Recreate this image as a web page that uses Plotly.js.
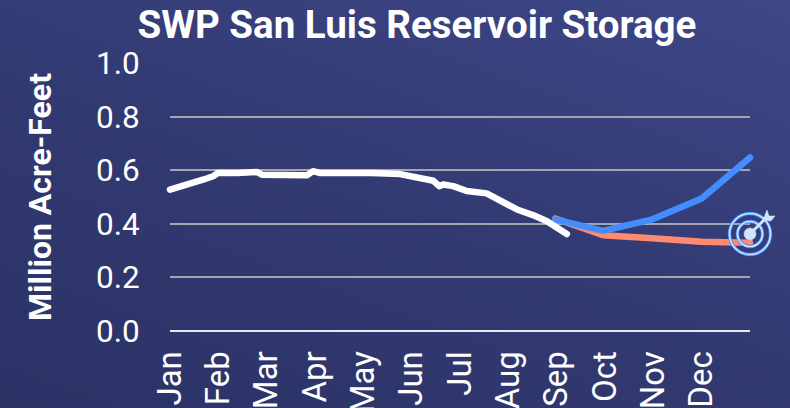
<!DOCTYPE html>
<html><head><meta charset="utf-8">
<script src="https://cdn.plot.ly/plotly-3.0.1.min.js"></script>
<style>
html,body{margin:0;padding:0;width:790px;height:408px;overflow:hidden;background:linear-gradient(20deg,#2a3266 0%,#323a72 50%,#3e4788 100%);}
#c{width:790px;height:408px;}
.scatterlayer path.js-line{stroke-linecap:round;stroke-linejoin:round;}
#c .cartesianlayer *{clip-path:none !important;}
</style></head><body><div id="c"></div>
<script>
const months=["Jan","Feb","Mar","Apr","May","Jun","Jul","Aug","Sep","Oct","Nov","Dec"];
const monthPos=[0,1,2,3,4,5,6,7,8,9,10,11];
const yTicks=[0,0.2,0.4,0.6,0.8,1.0];
const obsX=[0,0.25,0.48,0.7,0.89,0.99,1.4,1.80,1.90,2.4,2.84,2.96,3.11,3.6,4.08,4.18,4.76,4.97,5.11,5.45,5.57,5.65,5.86,6.14,6.55,6.83,7.18,7.51,7.80,8.21];
const obsY=[0.528,0.540,0.557,0.566,0.578,0.590,0.590,0.594,0.584,0.586,0.582,0.597,0.590,0.590,0.594,0.590,0.586,0.578,0.570,0.561,0.541,0.547,0.541,0.523,0.514,0.486,0.454,0.433,0.410,0.362];
const planX=[7.97,8.96,9.98,11,12];
const highY=[0.417,0.374,0.417,0.495,0.648];
const lowY=[0.420,0.358,0.346,0.333,0.330];

const base={xref:'paper',yref:'paper',xsizemode:'pixel',ysizemode:'pixel',xanchor:1,yanchor:0.362,layer:'above'};
function ring(r,w,color,fill){return Object.assign({type:'circle',x0:-r,x1:r,y0:-r,y1:r,line:{color:color,width:w},fillcolor:fill||'rgba(0,0,0,0)'},base);}
function pth(p,w,color,fill){return Object.assign({type:'path',path:p,line:{color:color,width:w},fillcolor:fill||'rgba(0,0,0,0)'},base);}

const shapes=[
 ring(20.5,3.4,'#448cff'),ring(20.5,1.7,'#cfe4ff'),
 ring(12.5,3.4,'#448cff'),ring(12.5,1.7,'#cfe4ff'),
 ring(6,0.5,'#cfe4ff','#cfe4ff'),
 pth('M 0 0 L 15 15',3,'#cfe4ff'),
 pth('M 13 14 L 17 24 L 19 18 L 25 18 L 21 13 Z',0.5,'#cfe4ff','#cfe4ff')
];

Plotly.newPlot('c',[
 {x:planX,y:lowY,mode:'lines',cliponaxis:false,line:{color:'#ff8a70',width:6.5},hoverinfo:'skip'},
 {x:planX,y:highY,mode:'lines',cliponaxis:false,line:{color:'#448cff',width:6.5},hoverinfo:'skip'},
 {x:obsX,y:obsY,mode:'lines',cliponaxis:false,line:{color:'#ffffff',width:6.5},hoverinfo:'skip'}
],{
 width:790,height:408,showlegend:false,
 paper_bgcolor:'rgba(0,0,0,0)',plot_bgcolor:'rgba(0,0,0,0)',
 margin:{l:170,r:40,t:63,b:77,pad:0},
 font:{family:'Roboto, sans-serif',color:'#ffffff'},
 title:{text:'<b>SWP San Luis Reservoir Storage</b>',font:{size:38.5,color:'#fff',family:'Roboto, sans-serif'},x:417/790,xanchor:'center',y:0.94,yanchor:'middle'},
 xaxis:{range:[0,12],tickmode:'array',tickvals:monthPos,ticktext:months,tickangle:-90,tickfont:{size:33,color:'#fff'},showgrid:false,zeroline:false,showline:false,ticks:'outside',ticklen:6,tickcolor:'rgba(0,0,0,0)',automargin:false,fixedrange:true},
 yaxis:{range:[0,1.001],tickmode:'array',tickvals:yTicks,ticktext:yTicks.map(v=>v.toFixed(1)),tickfont:{size:31.5,color:'#fff'},showgrid:true,gridcolor:'#a3a6b0',gridwidth:2,zeroline:true,zerolinecolor:'#e8e9f0',zerolinewidth:2,showline:false,ticks:'outside',ticklen:23,tickcolor:'rgba(0,0,0,0)',automargin:false,fixedrange:true,
  title:{text:'<b>Million Acre-Feet</b>',font:{size:32,color:'#fff'},standoff:34}},
 shapes:shapes
},{displayModeBar:false,staticPlot:true});
</script></body></html>
